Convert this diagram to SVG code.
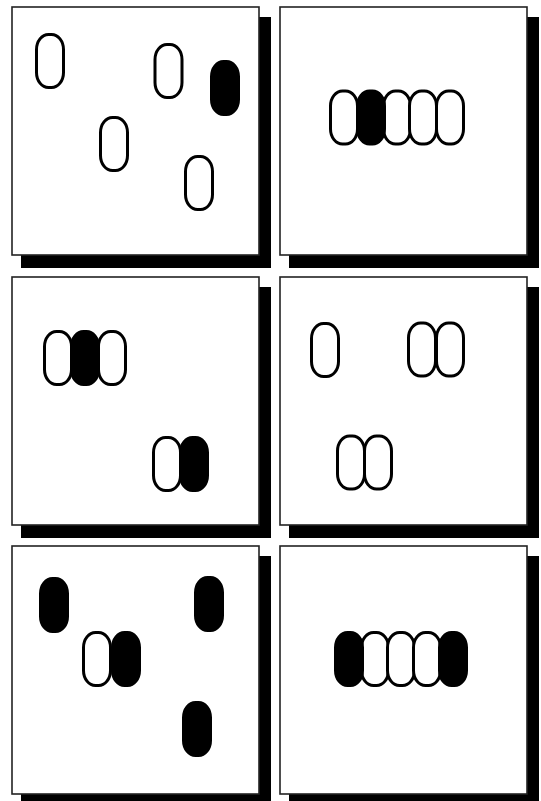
<svg xmlns="http://www.w3.org/2000/svg" width="541" height="801" viewBox="0 0 541 801">
<style>
.shadow{fill:#000}
.panel{fill:#fff;stroke:#222;stroke-width:1.6}
.o{fill:#fff;stroke:#000;stroke-width:3}
.f{fill:#000;stroke:#000;stroke-width:3}
</style>
<defs>
<rect id="oo" x="-13.5" y="-26.5" width="27" height="53" rx="12" ry="15"/>
</defs>
<rect width="541" height="801" fill="#fff"/>
<g id="panel1">
<rect class="shadow" x="21" y="17" width="250" height="251"/>
<rect class="panel" x="12" y="7" width="247" height="248"/>
<use href="#oo" class="o" x="50" y="61"/>
<use href="#oo" class="o" x="168.5" y="71"/>
<use href="#oo" class="f" x="225" y="88"/>
<use href="#oo" class="o" x="114" y="144"/>
<use href="#oo" class="o" x="199" y="183"/>
</g>
<g id="panel2">
<rect class="shadow" x="289" y="17" width="250" height="251"/>
<rect class="panel" x="280" y="7" width="247" height="248"/>
<use href="#oo" class="o" x="344" y="117.5"/>
<use href="#oo" class="o" x="397" y="117.5"/>
<use href="#oo" class="o" x="423" y="117.5"/>
<use href="#oo" class="o" x="450" y="117.5"/>
<use href="#oo" class="f" x="371" y="117.5"/>
</g>
<g id="panel3">
<rect class="shadow" x="21" y="287" width="250" height="251"/>
<rect class="panel" x="12" y="277" width="247" height="248"/>
<use href="#oo" class="o" x="58" y="358"/>
<use href="#oo" class="o" x="112" y="358"/>
<use href="#oo" class="f" x="85" y="358"/>
<use href="#oo" class="o" x="167" y="464"/>
<use href="#oo" class="f" x="194" y="464"/>
</g>
<g id="panel4">
<rect class="shadow" x="289" y="287" width="250" height="251"/>
<rect class="panel" x="280" y="277" width="247" height="248"/>
<use href="#oo" class="o" x="325" y="350"/>
<use href="#oo" class="o" x="422" y="349.5"/>
<use href="#oo" class="o" x="450" y="349.5"/>
<use href="#oo" class="o" x="351" y="462.5"/>
<use href="#oo" class="o" x="378" y="462.5"/>
</g>
<g id="panel5">
<rect class="shadow" x="21" y="556" width="250" height="251"/>
<rect class="panel" x="12" y="546" width="247" height="248"/>
<use href="#oo" class="f" x="54" y="605"/>
<use href="#oo" class="f" x="209" y="604"/>
<use href="#oo" class="o" x="97" y="659"/>
<use href="#oo" class="f" x="126" y="659"/>
<use href="#oo" class="f" x="197" y="729"/>
</g>
<g id="panel6">
<rect class="shadow" x="289" y="556" width="250" height="251"/>
<rect class="panel" x="280" y="546" width="247" height="248"/>
<use href="#oo" class="o" x="375" y="659"/>
<use href="#oo" class="o" x="401" y="659"/>
<use href="#oo" class="o" x="427" y="659"/>
<use href="#oo" class="f" x="349" y="659"/>
<use href="#oo" class="f" x="453" y="659"/>
</g>
<g id="connectors"></g>
</svg>
